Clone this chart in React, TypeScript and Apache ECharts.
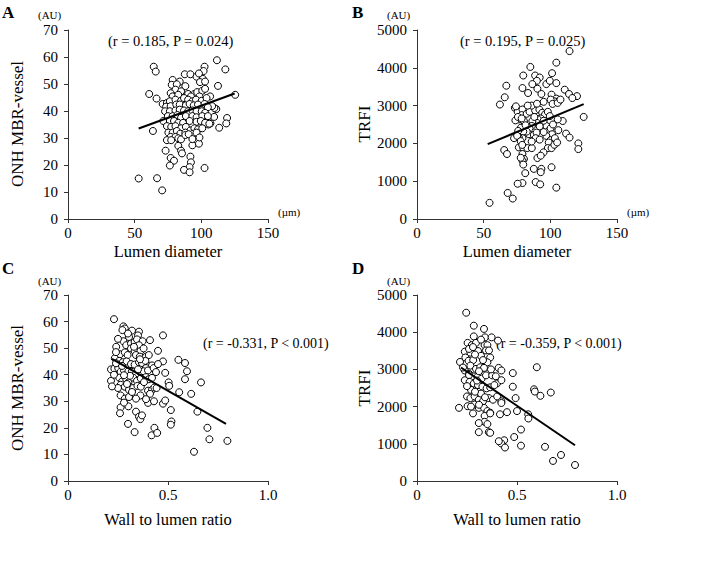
import React, { useEffect, useRef } from 'react';
import * as echarts from 'echarts';

const FONT = "'Liberation Serif', 'Times New Roman', serif";

// Panel A: lumen diameter (µm) vs ONH MBR-vessel (AU)
const panelA: [number, number][] = [
  [53, 15], [66.8, 15.1], [70.6, 10.6], [60.9, 46.3], [63.7, 32.6], [64.3, 56.4], [65.8, 54.6], [66.4, 44.6], [71, 42.6],
  [102.4, 56.4], [101.7, 54.8], [111.7, 58.8], [118, 55.4], [112.5, 49.3], [125.4, 46], [119.3, 37.4], [118.7, 35.4],
  [113.4, 33.8], [111.2, 40.7], [109.8, 41.1], [109.6, 37.8], [106.6, 45.4], [108.1, 41.8], [105.3, 35], [106.8, 35.4], [102, 37.1],
  [73.2, 25.3], [77, 22.6], [79.5, 21.6], [76.4, 19.8], [82.7, 27.1], [84.8, 25.3], [85.5, 24.3], [91.8, 23.1], [92.2, 21],
  [91.2, 19.2], [87, 18.2], [91.2, 17.3], [102.4, 18.9], [93.3, 27.3], [98.2, 27.9],
  [87.6, 53.6], [91.8, 53.6], [96.4, 52.7], [101.1, 51.9], [78.5, 51.5], [83.8, 50.9], [77.8, 49.7], [81.6, 49.9], [88, 49.2],
  [99, 50.7], [102.8, 50.9], [98.2, 53.9], [80.6, 47.9], [77, 46.6], [84.8, 47.3], [90.1, 46.3], [94.8, 46.3], [96.9, 47],
  [100.7, 47.5], [102.8, 48.2], [78.5, 45.4], [82.7, 46], [92.2, 45.4], [98.6, 45.4],
  [74.2, 43], [76.4, 43.6], [80.6, 44.2], [84.8, 43.8], [87, 44.8], [90.1, 44.2], [93.3, 43.6], [96, 44.2], [100.3, 43.8], [103.9, 44.8],
  [73.6, 41.6], [77, 41.8], [81.2, 42.4], [83.8, 42.4], [88.4, 42.1], [91.2, 42.6], [94.3, 42.1], [97.5, 42.4], [102.4, 42.6], [104.9, 41.4],
  [72.8, 39.9], [76.4, 39.9], [80.6, 40.2], [83.8, 40.5], [87, 40.2], [90.1, 39.9], [93.3, 40.2], [96.4, 39.9], [100.3, 39.9], [102.8, 39.3],
  [74.9, 38.1], [78.5, 38.1], [82.1, 38.5], [84.8, 37.5], [88.4, 38.1], [93.3, 38.1], [96.4, 37.7], [100.7, 38.1], [104.9, 38.1],
  [71.5, 36.3], [76.4, 36.3], [79.5, 36.3], [82.7, 35.6], [86.3, 35.6], [91.2, 36.3], [96.4, 36], [99.6, 36.3], [102.8, 35.6], [106, 35.3],
  [74.2, 34.4], [77.4, 34.1], [80.6, 34.4], [84.8, 33.6], [88.4, 34.1], [91.8, 32.8], [94.8, 33.6], [97.5, 33.2], [100.7, 33.6],
  [75.3, 32], [78.5, 32], [81.6, 32.6], [84.2, 31.6], [88, 32], [93.9, 31.6], [96.4, 32],
  [77, 30.4], [80.6, 30.4], [82.7, 29.9], [74.2, 29.2], [77.4, 29.2], [84.8, 29.5], [88, 31.1], [90.5, 31.4], [93.3, 29.6], [98.6, 30.2],
];

// Panel B: lumen diameter (µm) vs TRFI (AU)
const panelB: [number, number][] = [
  [114.4, 4442], [104.5, 4136], [85, 4023], [79.7, 3796], [88.6, 3796], [92, 3743], [89.9, 3656], [86.5, 3569], [97, 3569],
  [99.6, 3656], [101.3, 3857], [104.5, 3595], [67, 3526], [79.1, 3464], [83.3, 3333], [90.3, 3447], [93.3, 3307], [100.9, 3290],
  [104.5, 3185], [106.6, 3133], [110.8, 3421], [114, 3307], [103, 3115], [100.2, 3159], [65.8, 3220], [62.2, 3028],
  [73.4, 2941], [75.5, 2836], [79.1, 2897], [78.5, 2749], [76.4, 2635], [73.8, 2609], [80.2, 2591], [82.3, 2784], [84.4, 2836],
  [88.6, 2871], [91.8, 2897], [93.9, 2810], [96, 2766], [98.1, 2836], [99.6, 2722], [101.7, 3045], [105.5, 3071], [107.6, 3159],
  [109.3, 2592], [105.5, 2635], [92.8, 2661], [90.7, 2635], [89.7, 2548], [86.5, 2591], [86.1, 2461], [84.4, 2400], [84, 2242],
  [87.6, 2225], [89.7, 2286], [89, 2138], [82.3, 2312], [79.7, 2312], [78, 2417], [75.9, 2330], [79.1, 2138], [76.4, 2155],
  [72.8, 2138], [97, 2461], [98.8, 2330], [100.2, 2400], [101.3, 2242], [97, 2199], [100.2, 2085], [103.4, 2138], [98.8, 2024],
  [98.1, 1876], [100.9, 1876], [103, 1963], [105.1, 2024], [111.8, 2260], [114.4, 2155],
  [65.4, 1824], [67.5, 1719], [76.4, 1894], [79.7, 1876], [82.7, 1876], [86.1, 1876], [79.1, 1719], [80.2, 1588], [79.1, 1544],
  [79.7, 1440], [90.3, 1614], [94.9, 1763], [92.8, 1675], [100.9, 1370], [87.6, 1326], [81.2, 1213], [79.1, 951], [75.5, 933],
  [93.3, 1326], [92.8, 1239], [89, 977], [92.4, 916], [104.5, 829], [68, 689], [71.8, 541], [54.4, 427],
  [74.2, 2980], [75.7, 2700], [78.5, 2660], [75.1, 2200], [77.8, 2060], [81.4, 2480], [78.9, 1960], [77.8, 1620],
  [86, 3000], [90, 3050], [95, 3100], [83, 3000], [88, 2700], [95, 2600], [102, 2500], [92, 2450], [95, 2300], [92, 2100],
  [86, 2050], [106, 2350], [125, 2700], [121, 2000], [121, 1850], [120, 3250], [116.5, 3200],
];

// Panel C: wall to lumen ratio vs ONH MBR-vessel (AU)
const panelC: [number, number][] = [
  [0.23, 60.9], [0.277, 58.2], [0.284, 57.4], [0.272, 56.8], [0.32, 56.6], [0.355, 56.2], [0.35, 54.8], [0.475, 54.8], [0.305, 54.2],
  [0.277, 52.6], [0.291, 51.1], [0.315, 51.7], [0.333, 52.3], [0.345, 53.3], [0.373, 52.6], [0.355, 51.1], [0.241, 50.5],
  [0.315, 49.9], [0.333, 48.9], [0.362, 48.9], [0.378, 49.9], [0.26, 47.7], [0.284, 48.4], [0.298, 47.4], [0.34, 47.4],
  [0.359, 46.8], [0.39, 46.8], [0.404, 47.4], [0.475, 45], [0.234, 46.2], [0.256, 45.2], [0.274, 44.7], [0.293, 45],
  [0.315, 44], [0.333, 43.8], [0.355, 44.7], [0.37, 44.4], [0.387, 45.2], [0.406, 43.2], [0.42, 43.5], [0.39, 42.5],
  [0.215, 42], [0.232, 42.3], [0.251, 42.5], [0.263, 41.1], [0.28, 41.6], [0.302, 41.3], [0.319, 41.1], [0.34, 40.4],
  [0.364, 40.7], [0.378, 41.3], [0.4, 41.6], [0.428, 42.5], [0.215, 37.7], [0.256, 38.9], [0.27, 37.4], [0.291, 38.3],
  [0.302, 37.1], [0.326, 38.9], [0.345, 37.7], [0.364, 38.6], [0.39, 39.1], [0.404, 38.3], [0.486, 40.7], [0.263, 36.2],
  [0.284, 35.5], [0.305, 34.3], [0.326, 35], [0.347, 35.8], [0.364, 35.5], [0.4, 34], [0.42, 34.3], [0.432, 35.2],
  [0.443, 35], [0.41, 32.8], [0.263, 32.2], [0.284, 31], [0.305, 31.6], [0.362, 32.2], [0.4, 29.4], [0.475, 29.1],
  [0.486, 30.3], [0.263, 27.7], [0.302, 28.1], [0.34, 26.1], [0.355, 24.2], [0.362, 23.3], [0.333, 18.4], [0.418, 17.2],
  [0.432, 20], [0.446, 18.1], [0.552, 45.6], [0.585, 44.4], [0.595, 41.3], [0.585, 38.3], [0.665, 37.1], [0.503, 37.1],
  [0.506, 35.8], [0.556, 33.4], [0.616, 32.8], [0.514, 26.7], [0.517, 22.4], [0.514, 21.2], [0.647, 26.1], [0.697, 20],
  [0.707, 15.7], [0.797, 15.1], [0.63, 11],
  [0.24, 48.5], [0.25, 53.5], [0.3, 55.5], [0.33, 50.5], [0.36, 45.8], [0.27, 43.3], [0.31, 39.6], [0.35, 42], [0.28, 39.8],
  [0.24, 44.3], [0.38, 37.2], [0.23, 40], [0.295, 36.5], [0.25, 35], [0.32, 33.5], [0.34, 31], [0.28, 29.5], [0.39, 30.8],
  [0.26, 25.5], [0.3, 21.5], [0.37, 24.7], [0.42, 38.8], [0.44, 41], [0.45, 44], [0.41, 53], [0.45, 49], [0.43, 30], [0.22, 35.6],
];

// Panel D: wall to lumen ratio vs TRFI (AU)
const panelD: [number, number][] = [
  [0.246, 4524], [0.284, 4175], [0.335, 4088], [0.284, 3887], [0.34, 3861], [0.373, 3861], [0.405, 3774], [0.253, 3713],
  [0.274, 3652], [0.295, 3713], [0.338, 3652], [0.352, 3652], [0.345, 3510], [0.36, 3510], [0.239, 3477], [0.267, 3451],
  [0.242, 3320], [0.258, 3233], [0.281, 3250], [0.305, 3494], [0.32, 3364], [0.366, 3320], [0.352, 3190], [0.215, 3200],
  [0.267, 3102], [0.295, 3014], [0.316, 3058], [0.335, 3040], [0.408, 3040], [0.422, 2971], [0.479, 2901], [0.599, 3058],
  [0.239, 2971], [0.26, 2883], [0.28, 2814], [0.302, 2796], [0.323, 2753], [0.345, 2840], [0.376, 2840], [0.394, 2814],
  [0.4, 2622], [0.422, 2709], [0.239, 2709], [0.263, 2665], [0.284, 2622], [0.305, 2578], [0.327, 2535], [0.348, 2491],
  [0.366, 2518], [0.387, 2578], [0.479, 2535], [0.585, 2465], [0.617, 2290], [0.669, 2378], [0.589, 2404],
  [0.25, 2273], [0.267, 2229], [0.288, 2273], [0.309, 2185], [0.33, 2142], [0.359, 2229], [0.38, 2185], [0.401, 2273],
  [0.422, 2142], [0.493, 2229], [0.21, 1967], [0.253, 2011], [0.288, 2055], [0.309, 1967], [0.335, 1967], [0.352, 1880],
  [0.366, 1836], [0.422, 2098], [0.415, 1793], [0.45, 1850], [0.5, 1880], [0.556, 1793], [0.28, 1818], [0.338, 1749],
  [0.366, 1818], [0.338, 1591], [0.352, 1530], [0.359, 1313], [0.366, 1295], [0.309, 1558], [0.309, 1313], [0.436, 1095],
  [0.422, 1007], [0.486, 1182], [0.52, 1383], [0.557, 1680], [0.409, 1069], [0.64, 920], [0.68, 540], [0.72, 700],
  [0.79, 430], [0.52, 950], [0.44, 900],
  [0.23, 3050], [0.26, 3550], [0.29, 3400], [0.31, 2950], [0.27, 2450], [0.32, 2350], [0.25, 2550], [0.3, 2700], [0.34, 2250],
  [0.29, 2400], [0.26, 2850], [0.33, 3250], [0.37, 3000], [0.28, 3600], [0.32, 3800], [0.31, 2050], [0.27, 2000],
];

const trendA: [number, number][] = [[53, 33.5], [125, 46.5]];
const trendB: [number, number][] = [[53, 1980], [125, 3040]];
const trendC: [number, number][] = [[0.22, 46], [0.79, 21.5]];
const trendD: [number, number][] = [[0.22, 3050], [0.79, 960]];

const statsA = '(r = 0.185, P = 0.024)';
const statsB = '(r = 0.195, P = 0.025)';
const statsC = '(r = -0.331, P < 0.001)';
const statsD = '(r = -0.359, P < 0.001)';

export default function App() {
  const ref = useRef<HTMLDivElement>(null);
  useEffect(() => {
    const chart = echarts.init(ref.current!, null, { renderer: 'svg' });
    const grids = [
      { left: 68, top: 30, width: 200, height: 189 },
      { left: 417, top: 30, width: 200, height: 189 },
      { left: 68, top: 295, width: 200, height: 186 },
      { left: 417, top: 295, width: 200, height: 186 },
    ];
    const axisCommon = {
      axisLine: { show: true, onZero: false, lineStyle: { color: '#333', width: 1 } },
      axisTick: { show: true, length: 4, lineStyle: { color: '#333' } },
      splitLine: { show: false },
    };
    const lbl = { color: '#000', fontFamily: FONT, fontSize: 15 };
    const xAxis = grids.map((_, i) => ({
      type: 'value', gridIndex: i, min: 0,
      max: i < 2 ? 150 : 1, interval: i < 2 ? 50 : 0.5,
      ...axisCommon,
      axisLabel: { ...lbl, margin: 6, formatter: (v: number) => (i < 2 ? String(v) : v === 0 ? '0' : v.toFixed(1)) },
    }));
    const yAxis = grids.map((_, i) => ({
      type: 'value', gridIndex: i, min: 0,
      max: i % 2 === 0 ? 70 : 5000, interval: i % 2 === 0 ? 10 : 1000,
      ...axisCommon,
      axisLabel: { ...lbl, margin: 10, formatter: (v: number) => String(v) },
    }));
    const scatter = (data: [number, number][], i: number) => ({
      type: 'scatter', xAxisIndex: i, yAxisIndex: i, data, symbol: 'circle', symbolSize: 7,
      itemStyle: { color: '#fff', borderColor: '#000', borderWidth: 1, opacity: 1 },
      z: 2,
    });
    const trend = (data: [number, number][], i: number) => ({
      type: 'line', xAxisIndex: i, yAxisIndex: i, data, showSymbol: false, symbol: 'none',
      lineStyle: { color: '#000', width: 2 }, z: 3,
    });
    const txt = (text: string, x: number, y: number, size: number, extra: any = {}) => ({
      type: 'text', x, y, ...extra.el,
      style: { text, fontFamily: FONT, fontSize: size, fill: '#000', align: 'left', verticalAlign: 'middle', ...extra.style },
    });
    const rot = { el: { rotation: Math.PI / 2 }, style: { align: 'center' } };
    const ctr = { style: { align: 'center' } };
    const bold = { style: { fontWeight: 'bold' } };
    const graphic = [
      txt('A', 2, 12, 17, bold),
      txt('B', 352, 12, 17, bold),
      txt('C', 2, 268, 17, bold),
      txt('D', 352, 268, 17, bold),
      txt('(AU)', 38, 15, 11),
      txt('(AU)', 387, 15, 11),
      txt('(AU)', 38, 281, 11),
      txt('(AU)', 387, 281, 11),
      txt('(µm)', 278, 212, 11),
      txt('(µm)', 627, 212, 11),
      txt(statsA, 108, 41, 14.5),
      txt(statsB, 460, 41, 14.5),
      txt(statsC, 203, 343, 14),
      txt(statsD, 496, 343, 14),
      txt('Lumen diameter', 168, 251, 16.5, ctr),
      txt('Lumen diameter', 517, 251, 16.5, ctr),
      txt('Wall to lumen ratio', 168, 519, 16.5, ctr),
      txt('Wall to lumen ratio', 517, 519, 16.5, ctr),
      txt('ONH MBR-vessel', 17, 124, 17, rot),
      txt('TRFI', 364, 124, 17, rot),
      txt('ONH MBR-vessel', 17, 388, 17, rot),
      txt('TRFI', 364, 388, 17, rot),
    ];
    chart.setOption({
      animation: false,
      backgroundColor: '#fff',
      grid: grids,
      xAxis,
      yAxis,
      series: [
        scatter(panelA, 0), scatter(panelB, 1), scatter(panelC, 2), scatter(panelD, 3),
        trend(trendA, 0), trend(trendB, 1), trend(trendC, 2), trend(trendD, 3),
      ],
      graphic,
    });
    return () => chart.dispose();
  }, []);
  return <div ref={ref} style={{ position: 'absolute', left: 0, top: 0, width: 709, height: 561, background: '#fff' }} />;
}
